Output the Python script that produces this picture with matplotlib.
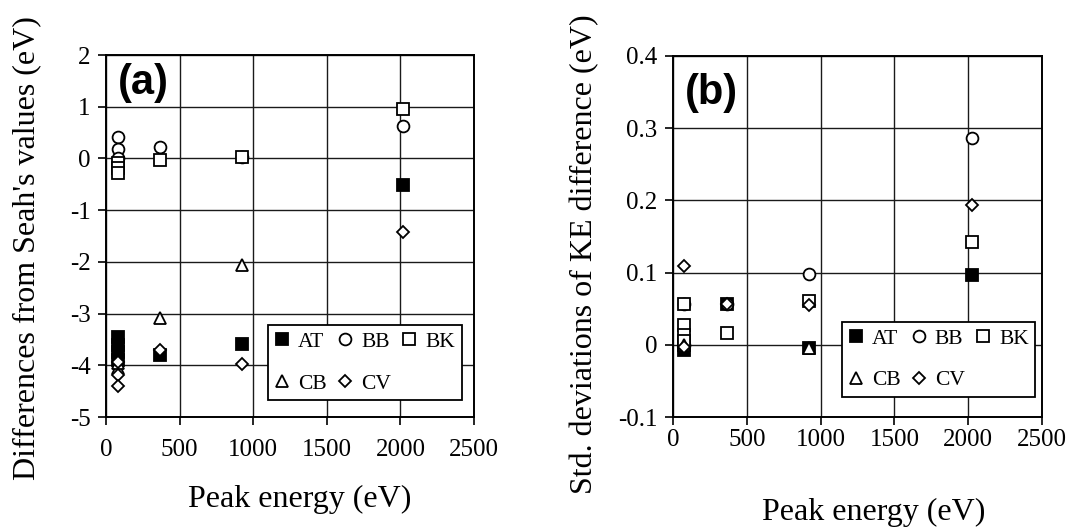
import matplotlib
matplotlib.use("Agg")
import matplotlib.pyplot as plt

plt.rcParams['font.family'] = ['Liberation Serif', 'DejaVu Serif']
plt.rcParams['axes.unicode_minus'] = False

# peak energies (eV) and values per laboratory, panel (a): differences from Seah's values
a_at_x = [82, 82, 82, 82, 367, 922, 2018]
a_at_y = [-3.45, -3.6, -3.75, -3.9, -3.8, -3.58, -0.52]
a_bb_x = [82, 82, 82, 367, 922, 2018]
a_bb_y = [0.41, 0.19, 0.0, 0.22, 0.02, 0.63]
a_bk_x = [82, 82, 82, 367, 922, 2018]
a_bk_y = [-0.08, -0.18, -0.28, -0.03, 0.02, 0.96]
a_cb_x = [82, 82, 367, 922]
a_cb_y = [-4.05, -3.95, -3.08, -2.06]
a_cv_x = [82, 82, 82, 367, 922, 2018]
a_cv_y = [-3.93, -4.18, -4.41, -3.7, -3.97, -1.42]

# panel (b): standard deviations of KE difference
b_at_x = [72, 72, 367, 922, 2028]
b_at_y = [-0.007, 0.0, 0.057, -0.005, 0.096]
b_bb_x = [72, 72, 367, 922, 2028]
b_bb_y = [0.056, 0.0, 0.057, 0.098, 0.287]
b_bk_x = [72, 72, 72, 72, 367, 922, 2028]
b_bk_y = [0.056, 0.028, 0.014, 0.005, 0.016, 0.060, 0.142]
b_cb_x = [72, 922]
b_cb_y = [0.0, -0.005]
b_cv_x = [72, 72, 367, 922, 2028]
b_cv_y = [0.109, -0.003, 0.057, 0.055, 0.194]

labs = ["AT", "BB", "BK", "CB", "CV"]
x_ticks = [0, 500, 1000, 1500, 2000, 2500]
x_ticklabels = ["0", "500", "1000", "1500", "2000", "2500"]
a_yticks = [-5, -4, -3, -2, -1, 0, 1, 2]
a_yticklabels = ["-5", "-4", "-3", "-2", "-1", "0", "1", "2"]
b_yticks = [-0.1, 0, 0.1, 0.2, 0.3, 0.4]
b_yticklabels = ["-0.1", "0", "0.1", "0.2", "0.3", "0.4"]

styles = {
    "AT": dict(marker="s", ms=9.0, mfc="black"),
    "BB": dict(marker="o", ms=8.5, mfc="white"),
    "BK": dict(marker="s", ms=9.0, mfc="white"),
    "CB": dict(marker="^", ms=8.5, mfc="white"),
    "CV": dict(marker="D", ms=6.2, mfc="white"),
}


def draw_panel(ax, series, yticks, yticklabels, ylim, ylabel, tag):
    handles = {}
    for lab, (xs, ys) in zip(labs, series):
        h, = ax.plot(xs, ys, ls="none", mec="black", mew=1.3, **styles[lab])
        handles[lab] = h
    ax.set_xlim(0, 2500)
    ax.set_ylim(*ylim)
    ax.set_xticks(x_ticks)
    ax.set_xticklabels(x_ticklabels)
    ax.set_yticks(yticks)
    ax.set_yticklabels(yticklabels)
    ax.grid(True, color="#1a1a1a", lw=1.0)
    ax.set_axisbelow(True)
    for sp in ax.spines.values():
        sp.set_linewidth(1.4)
    ax.tick_params(direction="out", length=5.5, width=1.2, labelsize=18, pad=5.5)
    ax.set_ylabel(ylabel, fontsize=23)
    ax.set_xlabel("Peak energy (eV)", fontsize=23)
    ax.text(0.033, tag[1], tag[0], transform=ax.transAxes, ha="left", va="center",
            fontsize=30, fontweight="bold", family="Liberation Sans")
    # legend in two rows: AT BB BK / CB CV
    order = ["AT", "CB", "BB", "CV", "BK"]
    leg = ax.legend([handles[k] for k in order], order, ncol=3, loc="lower left",
                    fontsize=15.5, handlelength=0.7, handletextpad=0.4, columnspacing=0.5,
                    labelspacing=1.0, borderpad=0.3, borderaxespad=0, fancybox=False,
                    framealpha=1, edgecolor="black")
    leg.get_frame().set_linewidth(1.3)
    return leg


fig = plt.figure(figsize=(10.7, 5.27), dpi=100)
ax_a = fig.add_axes([106 / 1070, 1 - 417 / 527, 368 / 1070, 362 / 527])
ax_b = fig.add_axes([673 / 1070, 1 - 417 / 527, 369 / 1070, 361 / 527])

leg_a = draw_panel(ax_a, [(a_at_x, a_at_y), (a_bb_x, a_bb_y), (a_bk_x, a_bk_y), (a_cb_x, a_cb_y), (a_cv_x, a_cv_y)],
                   a_yticks, a_yticklabels, (-5, 2), "Differences from Seah's values (eV)", ("(a)", 0.923))
leg_a.set_bbox_to_anchor((0.44, 0.047), transform=ax_a.transAxes)

leg_b = draw_panel(ax_b, [(b_at_x, b_at_y), (b_bb_x, b_bb_y), (b_bk_x, b_bk_y), (b_cb_x, b_cb_y), (b_cv_x, b_cv_y)],
                   b_yticks, b_yticklabels, (-0.1, 0.4), "Std. deviations of KE difference (eV)", ("(b)", 0.897))
leg_b.set_bbox_to_anchor((0.457, 0.056), transform=ax_b.transAxes)

# label placement differs a little between the two panels
ax_a.tick_params(axis="x", pad=10)
ax_b.tick_params(axis="x", pad=3.5)
ax_a.yaxis.set_label_coords(-0.177, 0.467)
ax_b.yaxis.set_label_coords(-0.199, 0.452)
ax_a.xaxis.set_label_coords(0.527, -0.188)
ax_b.xaxis.set_label_coords(0.545, -0.224)

fig.savefig("out.png", dpi=100)
